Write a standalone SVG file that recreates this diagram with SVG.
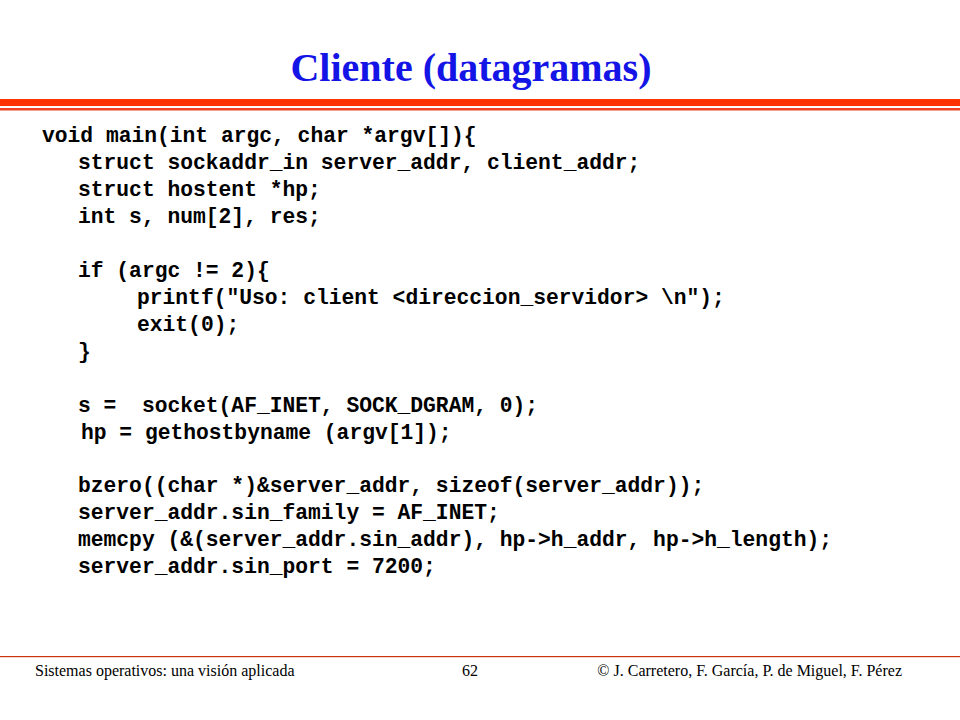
<svg xmlns="http://www.w3.org/2000/svg" width="960" height="720" viewBox="0 0 960 720">
<style>
.c{font-family:"Liberation Mono",monospace;font-weight:bold;font-size:21.3px;fill:#000;white-space:pre}
.f{font-family:"Liberation Serif",serif;font-size:16px;fill:#000}
</style>
<rect width="960" height="720" fill="#fff"/>
<text x="471" y="81" text-anchor="middle" font-family="Liberation Serif,serif" font-weight="bold" font-size="40" fill="#1414e6">Cliente (datagramas)</text>
<rect x="0" y="99" width="960" height="7" fill="#ff3300"/>
<rect x="0" y="108" width="960" height="2.5" fill="#ee4422"/>
<g xml:space="preserve">
<text class="c" x="42" y="142">void main(int argc, char *argv[]){</text>
<text class="c" x="78" y="169">struct sockaddr_in server_addr, client_addr;</text>
<text class="c" x="78" y="196">struct hostent *hp;</text>
<text class="c" x="78" y="223">int s, num[2], res;</text>
<text class="c" x="78" y="277">if (argc != 2){</text>
<text class="c" x="137" y="304">printf("Uso: client &lt;direccion_servidor&gt; \n");</text>
<text class="c" x="137" y="331">exit(0);</text>
<text class="c" x="78" y="358">}</text>
<text class="c" x="78" y="412">s =  socket(AF_INET, SOCK_DGRAM, 0);</text>
<text class="c" x="81" y="439">hp = gethostbyname (argv[1]);</text>
<text class="c" x="78" y="492">bzero((char *)&amp;server_addr, sizeof(server_addr));</text>
<text class="c" x="78" y="519">server_addr.sin_family = AF_INET;</text>
<text class="c" x="78" y="546">memcpy (&amp;(server_addr.sin_addr), hp-&gt;h_addr, hp-&gt;h_length);</text>
<text class="c" x="78" y="573">server_addr.sin_port = 7200;</text>
</g>
<rect x="0" y="656" width="960" height="1.2" fill="#cc3311"/>
<text class="f" x="35" y="676">Sistemas operativos: una visión aplicada</text>
<text class="f" x="470" y="676" text-anchor="middle">62</text>
<text class="f" x="902" y="676" text-anchor="end">© J. Carretero, F. García, P. de Miguel, F. Pérez</text>
</svg>
